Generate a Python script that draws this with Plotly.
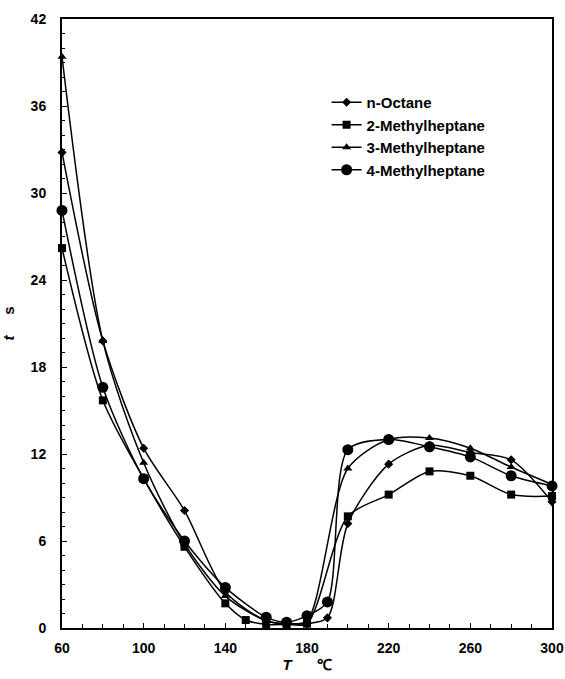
import plotly.graph_objects as go

# Data
octane_T = [60, 80, 100, 120, 140, 160, 170, 180, 190, 200, 220, 240, 260, 280, 300]
octane_t = [32.8, 19.8, 12.4, 8.1, 2.5, 0.5, 0.3, 0.3, 0.7, 7.2, 11.3, 12.6, 12.1, 11.6, 8.7]

m2_T = [60, 80, 100, 120, 140, 150, 160, 170, 180, 200, 220, 240, 260, 280, 300]
m2_t = [26.2, 15.7, 10.3, 5.6, 1.7, 0.55, 0.25, 0.25, 0.3, 7.7, 9.2, 10.8, 10.5, 9.2, 9.1]

m3_T = [60, 80, 100, 120, 140, 160, 170, 180, 200, 220, 240, 260, 280, 300]
m3_t = [39.4, 19.8, 11.4, 5.8, 2.2, 0.5, 0.3, 0.5, 11.0, 13.0, 13.1, 12.4, 11.1, 9.9]

m4_T = [60, 80, 100, 120, 140, 160, 170, 180, 190, 200, 220, 240, 260, 280, 300]
m4_t = [28.8, 16.6, 10.3, 6.0, 2.8, 0.75, 0.4, 0.85, 1.8, 12.3, 13.0, 12.5, 11.8, 10.5, 9.8]

names = ["n-Octane", "2-Methylheptane", "3-Methylheptane", "4-Methylheptane"]
symbols = ["diamond", "square", "triangle-up", "circle"]
sizes = [7, 8, 8, 11]

x_ticks = [60, 100, 140, 180, 220, 260, 300]
y_ticks = [0, 6, 12, 18, 24, 30, 36, 42]

fig = go.Figure()
for xs, ys, nm, sym, sz in zip([octane_T, m2_T, m3_T, m4_T], [octane_t, m2_t, m3_t, m4_t],
                               names, symbols, sizes):
    fig.add_trace(go.Scatter(
        x=xs, y=ys, name=nm, mode="lines+markers",
        line=dict(color="black", width=1.5, shape="spline", smoothing=0.8),
        marker=dict(symbol=sym, size=sz, color="black"),
        cliponaxis=False,
    ))

font_family = "Liberation Sans, Arial, sans-serif"
fig.update_layout(
    width=565, height=679,
    margin=dict(l=62, r=13, t=19, b=51, autoexpand=False),
    paper_bgcolor="white", plot_bgcolor="white",
    font=dict(family=font_family, size=14, color="black"),
    showlegend=True,
    legend=dict(x=0.54, y=0.89, xanchor="left", yanchor="top",
                bgcolor="rgba(0,0,0,0)", borderwidth=0,
                font=dict(size=15, family=font_family, weight="bold"),
                tracegroupgap=0, itemwidth=30),
    xaxis=dict(range=[60, 300], tickvals=x_ticks, ticktext=[str(v) for v in x_ticks],
               automargin=False,
               showgrid=False, zeroline=False, showline=True, linecolor="black", linewidth=2,
               mirror=True, ticks="inside", ticklen=5, tickcolor="black",
               minor=dict(dtick=10, ticks="inside", ticklen=4, tickcolor="black"),
               tickfont=dict(size=14, weight="bold"), ticklabelstandoff=6,
               title=dict(text="<i>T</i>      ℃", font=dict(size=15, weight="bold"), standoff=2)),
    yaxis=dict(range=[0, 42], tickvals=y_ticks, ticktext=[str(v) for v in y_ticks],
               automargin=False,
               showgrid=False, zeroline=False, showline=True, linecolor="black", linewidth=2,
               mirror=True, ticks="inside", ticklen=5, tickcolor="black",
               minor=dict(dtick=1, ticks="inside", ticklen=3, tickcolor="black"),
               tickfont=dict(size=14, weight="bold"), ticklabelstandoff=11,
               title=dict(text="<i>t</i>     s", font=dict(size=15, weight="bold"), standoff=12)),
)

fig.write_html("out.html")
